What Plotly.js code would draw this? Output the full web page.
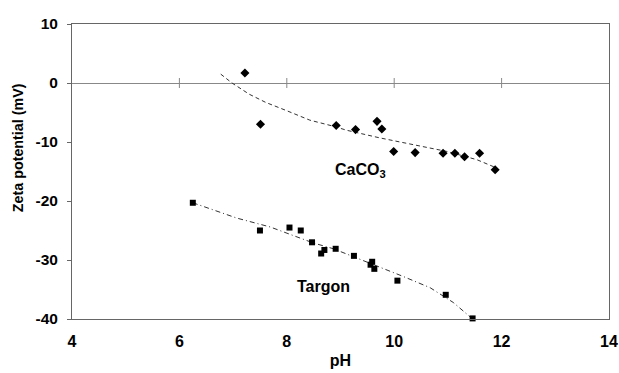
<!DOCTYPE html>
<html><head><meta charset="utf-8">
<script src="https://cdn.plot.ly/plotly-3.0.1.min.js"></script>
<style>html,body{margin:0;padding:0;background:#fff}#chart{width:619px;height:373px}</style>
</head><body><div id="chart"></div>
<script>
// CaCO3 measured points
const caco3PH   = [7.22, 7.51, 8.92, 9.28, 9.68, 9.77, 9.99, 10.39, 10.91, 11.13, 11.31, 11.59, 11.88];
const caco3Zeta = [1.7, -7.0, -7.2, -7.9, -6.5, -7.8, -11.6, -11.8, -11.9, -11.9, -12.5, -11.9, -14.7];
// CaCO3 trend line
const caco3TrendPH   = [6.77, 6.98, 7.3, 7.61, 8.0, 8.43, 8.9, 9.11, 9.73, 10.36, 10.98, 11.54, 11.88];
const caco3TrendZeta = [1.5, 0.0, -1.9, -3.3, -4.7, -6.3, -7.4, -8.0, -9.3, -10.5, -11.6, -13.0, -14.3];
// Targon measured points
const targonPH   = [6.25, 7.50, 8.05, 8.26, 8.47, 8.70, 8.64, 8.91, 9.25, 9.59, 9.56, 9.63, 10.06, 10.96, 11.46];
const targonZeta = [-20.3, -25.0, -24.5, -25.0, -27.0, -28.3, -28.9, -28.1, -29.3, -30.3, -30.8, -31.5, -33.5, -35.9, -39.9];
// Targon trend line
const targonTrendPH   = [6.25, 7.07, 7.69, 8.18, 8.49, 8.87, 9.55, 10.17, 10.67, 11.1, 11.46];
const targonTrendZeta = [-20.3, -22.9, -24.4, -26.0, -27.1, -28.1, -30.5, -32.8, -34.7, -37.2, -40.0];
// axes
const xTickVals = [4, 6, 8, 10, 12, 14];
const yTickVals = [10, 0, -10, -20, -30, -40];
const xTitle = 'pH';
const yTitle = 'Zeta potential (mV)';
const labelCaCO3 = 'CaCO<sub>3</sub>';
const labelTargon = 'Targon';

const FONT = 'Liberation Sans, Arial, sans-serif';
const b = s => '<b>' + s + '</b>';
const traces = [
  {x: caco3TrendPH, y: caco3TrendZeta, mode: 'lines', line: {color: '#333', width: 1, dash: '4px,3px'}, hoverinfo: 'skip'},
  {x: targonTrendPH, y: targonTrendZeta, mode: 'lines', line: {color: '#333', width: 1, dash: '5px,3px,1px,3px'}, hoverinfo: 'skip'},
  {x: caco3PH, y: caco3Zeta, mode: 'markers', marker: {symbol: 'diamond', size: 7, color: '#000'}, cliponaxis: false},
  {x: targonPH, y: targonZeta, mode: 'markers', marker: {symbol: 'square', size: 6, color: '#000'}, cliponaxis: false}
];
const zeroTicks = xTickVals.slice(1, -1).map(t => ({
  type: 'line', xref: 'x', yref: 'y', x0: t, x1: t,
  ysizemode: 'pixel', yanchor: 0, y0: -5, y1: 5,
  line: {color: '#888', width: 1}
}));
const layout = {
  width: 619, height: 373,
  margin: {l: 72, r: 10, t: 23.5, b: 53.5},
  paper_bgcolor: '#fff', plot_bgcolor: '#fff',
  showlegend: false,
  font: {family: FONT, color: '#000'},
  xaxis: {
    range: [4, 14], tickvals: xTickVals, ticktext: xTickVals.map(v => b(String(v))),
    showgrid: false, zeroline: false, showline: true, mirror: true, linecolor: '#666', linewidth: 1,
    ticks: '', ticklabelstandoff: 8,
    tickfont: {family: FONT, size: 16, color: '#000'},
    title: {text: b(xTitle), font: {family: FONT, size: 16, color: '#000'}, standoff: 5}
  },
  yaxis: {
    range: [-40, 10], tickvals: yTickVals, ticktext: yTickVals.map(v => b(String(v))),
    showgrid: false, zeroline: true, zerolinecolor: '#888', zerolinewidth: 1,
    showline: true, mirror: true, linecolor: '#666', linewidth: 1,
    ticks: 'outside', ticklen: 4, tickcolor: '#666', ticklabelstandoff: 6,
    tickfont: {family: FONT, size: 15.5, color: '#000'}
  },
  shapes: zeroTicks,
  annotations: [
    {xref: 'paper', yref: 'paper', x: -0.1, y: 0.58, xanchor: 'center', yanchor: 'middle', showarrow: false,
     textangle: -90, text: b(yTitle), font: {family: FONT, size: 14.3, color: '#000'}},
    {xref: 'x', yref: 'y', x: 9.38, y: -14.9, showarrow: false, text: b(labelCaCO3),
     font: {family: FONT, size: 16, color: '#000'}},
    {xref: 'x', yref: 'y', x: 8.69, y: -34.5, showarrow: false, text: b(labelTargon),
     font: {family: FONT, size: 16, color: '#000'}}
  ]
};
Plotly.newPlot('chart', traces, layout, {displayModeBar: false, staticPlot: true});
</script></body></html>
